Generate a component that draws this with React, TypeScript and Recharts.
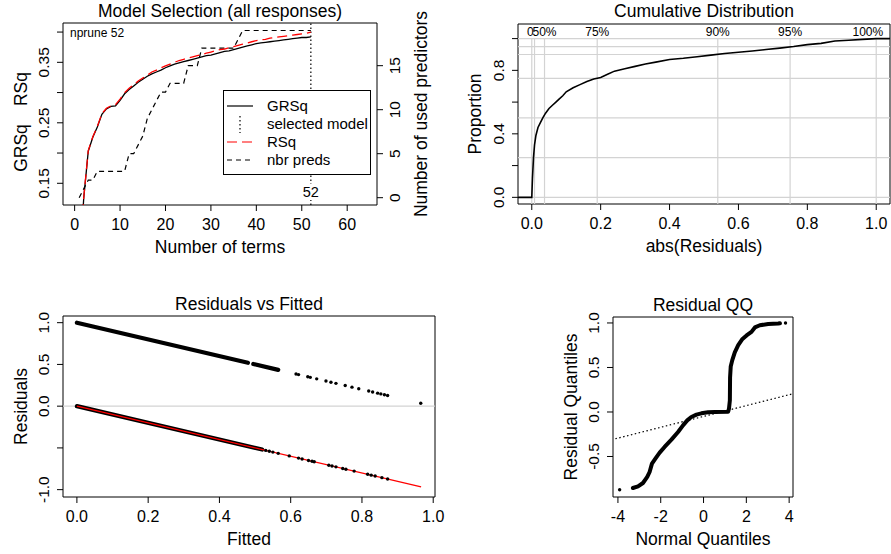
import React from "react";
import {
  ComposedChart,
  Line,
  Scatter,
  XAxis,
  YAxis,
  ReferenceLine,
  ReferenceArea,
  Legend,
} from "recharts";

// ---- model selection (top left) ----
const terms = [
  1, 2, 3, 4, 5, 6, 7, 8, 9, 10, 11, 12, 13, 14, 15, 16, 17, 18, 19, 20, 21, 22, 23, 24, 25, 26,
  27, 28, 29, 30, 31, 32, 33, 34, 35, 36, 37, 38, 39, 40, 41, 42, 43, 44, 45, 46, 47, 48, 49, 50, 51, 52,
];
const grsq = [
  0.0, 0.125, 0.203, 0.226, 0.243, 0.264, 0.273, 0.277, 0.278, 0.287, 0.298, 0.305, 0.311, 0.317,
  0.322, 0.327, 0.331, 0.334, 0.337, 0.341, 0.344, 0.347, 0.349, 0.351, 0.353, 0.355, 0.357, 0.359,
  0.361, 0.362, 0.364, 0.366, 0.368, 0.369, 0.371, 0.373, 0.375, 0.377, 0.379, 0.381, 0.382, 0.383,
  0.384, 0.385, 0.386, 0.387, 0.388, 0.389, 0.39, 0.391, 0.391, 0.392,
];
const rsq = [
  0.0, 0.126, 0.204, 0.227, 0.244, 0.265, 0.274, 0.278, 0.28, 0.289, 0.3, 0.307, 0.313, 0.319,
  0.324, 0.329, 0.334, 0.337, 0.341, 0.344, 0.347, 0.35, 0.353, 0.355, 0.357, 0.359, 0.361, 0.363,
  0.365, 0.367, 0.369, 0.371, 0.372, 0.374, 0.376, 0.378, 0.38, 0.382, 0.384, 0.386, 0.387, 0.388,
  0.39, 0.391, 0.392, 0.393, 0.394, 0.395, 0.396, 0.397, 0.398, 0.4,
];
const nbrPreds = [
  0, 1, 2, 2, 3, 3, 3, 3, 3, 3, 3, 5, 5, 6, 7, 9, 10, 11, 12, 12, 13, 13, 13, 13, 15, 15, 15, 17,
  17, 17, 17, 17, 17, 17, 17, 18, 19, 19, 19, 19, 19, 19, 19, 19, 19, 19, 19, 19, 19, 19, 19, 19,
];
const selectedTerms = 52;
const termTicks = [0, 10, 20, 30, 40, 50, 60];
const termTickLabels = ["0", "10", "20", "30", "40", "50", "60"];
const rsqTicks = [0.15, 0.2, 0.25, 0.3, 0.35, 0.4];
const rsqTickLabels = ["0.15", "", "0.25", "", "0.35", ""];
const predTicks = [0, 5, 10, 15];
const predTickLabels = ["0", "5", "10", "15"];
const legendNames = ["GRSq", "selected model", "RSq", "nbr preds"];

// ---- cumulative distribution (top right) ----
const absResid = [
  -0.04, 0.0, 0.002, 0.005, 0.008, 0.012, 0.018, 0.025, 0.032, 0.04, 0.05, 0.06, 0.07, 0.08, 0.09,
  0.1, 0.12, 0.14, 0.16, 0.18, 0.2, 0.22, 0.24, 0.27, 0.3, 0.33, 0.36, 0.4, 0.44, 0.48, 0.52, 0.56,
  0.6, 0.64, 0.68, 0.72, 0.76, 0.8, 0.84, 0.88, 0.92, 0.96, 1.0, 1.04,
];
const cumProp = [
  0, 0, 0.12, 0.25, 0.33, 0.39, 0.44, 0.47, 0.5, 0.53, 0.56, 0.58, 0.6, 0.62, 0.64, 0.665, 0.69,
  0.71, 0.73, 0.745, 0.755, 0.775, 0.795, 0.81, 0.825, 0.84, 0.852, 0.868, 0.876, 0.886, 0.896,
  0.906, 0.914, 0.922, 0.931, 0.94, 0.95, 0.962, 0.97, 0.985, 0.99, 0.995, 1.0, 1.0,
];
const quantileAt = [0, 0.008, 0.037, 0.19, 0.54, 0.75, 1.0];
const quantileNames = ["0", "", "50%", "75%", "90%", "95%", "100%"];
const propGrid = [0, 0.25, 0.5, 0.75, 0.9, 0.95, 1.0];
const unitTicks = [0, 0.2, 0.4, 0.6, 0.8, 1.0];
const unitTickLabels = ["0.0", "0.2", "0.4", "0.6", "0.8", "1.0"];
const propTickLabels = ["0.0", "", "0.4", "", "0.8", ""];

// ---- residuals vs fitted (bottom left) ----
const bandUpperFitted = [0, 0.48, 0.488, 0.495, 0.565];
const bandUpperResid = [1.0, 0.52, null, 0.505, 0.435];
const bandLowerFitted = [0, 0.52];
const bandLowerResid = [0, -0.52];
const upperFitted = [
  0.615, 0.622, 0.648, 0.655, 0.673, 0.699, 0.713, 0.727, 0.753, 0.772, 0.791, 0.819, 0.83, 0.844,
  0.853, 0.863, 0.872, 0.965,
];
const upperResid = [
  0.385, 0.378, 0.352, 0.345, 0.327, 0.301, 0.287, 0.273, 0.247, 0.228, 0.209, 0.181, 0.17, 0.156,
  0.147, 0.137, 0.128, 0.035,
];
const lowerFitted = [
  0.53, 0.54, 0.55, 0.565, 0.596, 0.622, 0.632, 0.65, 0.66, 0.666, 0.707, 0.716, 0.727, 0.746,
  0.755, 0.778, 0.816, 0.826, 0.837, 0.856, 0.872,
];
const lowerResid = [
  -0.53, -0.54, -0.55, -0.565, -0.596, -0.622, -0.632, -0.65, -0.66, -0.666, -0.707, -0.716,
  -0.727, -0.746, -0.755, -0.778, -0.816, -0.826, -0.837, -0.856, -0.872,
];
const fitLineFitted = [0, 0.966];
const fitLineResid = [0, -0.966];
const residTicks = [-1, -0.5, 0, 0.5, 1];
const residTickLabels = ["-1.0", "", "0.0", "0.5", "1.0"];

// ---- residual QQ (bottom right) ----
const normQ = [
  -3.3, -3.06, -2.83, -2.63, -2.52, -2.41, -2.25, -2.05, -1.82, -1.5, -1.19, -0.96, -0.76, -0.57,
  -0.33, -0.1, 0.21, 0.52, 1.15, 1.19, 1.23, 1.24, 1.27, 1.34, 1.46, 1.62, 1.82, 2.01, 2.24, 2.4,
  2.63, 3.02, 3.49, 3.57,
];
const residQ = [
  -0.854, -0.835, -0.798, -0.73, -0.674, -0.58, -0.524, -0.457, -0.393, -0.311, -0.225, -0.15,
  -0.094, -0.056, -0.03, -0.015, -0.004, 0.0, 0.004, 0.04, 0.13, 0.39, 0.51, 0.58, 0.67, 0.75,
  0.82, 0.86, 0.9, 0.95, 0.974, 0.989, 0.993, 0.996,
];
const qqOutX = [-3.92, 3.83];
const qqOutY = [-0.873, 1.0];
const qqLineX = [-4.3, 4.3];
const qqLineY = [-0.312, 0.212];
const normTicks = [-4, -2, 0, 2, 4];
const normTickLabels = ["-4", "-2", "0", "2", "4"];
const qqYTicks = [-0.5, 0, 0.5, 1];
const qqYTickLabels = ["-0.5", "0.0", "0.5", "1.0"];

// ---- layout ----
const W = 891;
const H = 554;
const XH = 30;
const YW = 30;
const FONT = '"Liberation Sans", Arial, Helvetica, sans-serif';
const TICK_X = 16;
const TICK_Y = 15.5;
const LAB = 17.5;
const GRAY = "#d3d3d3";

const P1 = { l: 63, r: 377, t: 23, b: 205 };
const P2 = { l: 518, r: 890, t: 24, b: 204 };
const P3 = { l: 63, r: 435, t: 316, b: 497 };
const P4 = { l: 613, r: 793, t: 317, b: 497 };

const zip = (xs: number[], ys: (number | null)[]) => xs.map((x, i) => ({ x, y: ys[i] }));

function findLabel(ticks: number[], labels: string[], v: number) {
  const i = ticks.findIndex((t) => Math.abs(t - v) < 1e-9);
  return i < 0 ? "" : labels[i];
}

function xTick(ticks: number[], labels: string[]) {
  return (props: any) => (
    <text x={props.x} y={props.y + 17} textAnchor="middle" fontSize={TICK_X} fontFamily={FONT} fill="#000">
      {findLabel(ticks, labels, props.payload.value)}
    </text>
  );
}

function yTick(ticks: number[], labels: string[], dx: number) {
  return (props: any) => {
    const x = props.x + dx;
    return (
      <text
        x={x}
        y={props.y}
        transform={`rotate(-90 ${x} ${props.y})`}
        textAnchor="middle"
        fontSize={TICK_Y}
        fontFamily={FONT}
        fill="#000"
      >
        {findLabel(ticks, labels, props.payload.value)}
      </text>
    );
  };
}

function VText({ x, y, size, children }: any) {
  return (
    <text x={x} y={y} transform={`rotate(-90 ${x} ${y})`} textAnchor="middle" fontSize={size} fontFamily={FONT} fill="#000">
      {children}
    </text>
  );
}

function HText({ x, y, size, anchor, children }: any) {
  return (
    <text x={x} y={y} textAnchor={anchor || "middle"} fontSize={size} fontFamily={FONT} fill="#000">
      {children}
    </text>
  );
}

const dot = (props: any) => <circle cx={props.cx} cy={props.cy} r={1.7} fill="#000" />;

const legendStyle: Record<string, { stroke: string; dash?: string; vertical?: boolean }> = {
  GRSq: { stroke: "#000" },
  "selected model": { stroke: "#000", dash: "1.5 2.5", vertical: true },
  RSq: { stroke: "#ff0000", dash: "10 5" },
  "nbr preds": { stroke: "#000", dash: "5 4" },
};

const renderLegend = () => (
  <svg width={149} height={86} style={{ display: "block" }}>
    <rect x={0.5} y={0.5} width={147} height={84} fill="#fff" stroke="#000" />
    {legendNames.map((name, i) => {
      const yb = 21 + i * 18;
      const st = legendStyle[name];
      return (
        <g key={name}>
          {st.vertical ? (
            <line x1={17} x2={17} y1={yb - 13} y2={yb + 4} stroke={st.stroke} strokeDasharray={st.dash} strokeWidth={1.2} />
          ) : (
            <line x1={4} x2={30} y1={yb - 5} y2={yb - 5} stroke={st.stroke} strokeDasharray={st.dash} strokeWidth={1.2} />
          )}
          <text x={44} y={yb} fontSize={15} fontFamily={FONT} fill="#000">
            {name}
          </text>
        </g>
      );
    })}
  </svg>
);

const layer: React.CSSProperties = { position: "absolute", left: 0, top: 0 };

function ModelSelection() {
  const rows = terms.map((t, i) => ({ x: t, grsq: grsq[i], rsq: rsq[i], preds: nbrPreds[i] }));
  const xDom = [-2.56, 66.56];
  const lDom = [0.1141, 0.415];
  const rDom = [-0.83, 19.85];
  return (
    <ComposedChart
      width={W}
      height={H}
      data={rows}
      margin={{ top: P1.t, bottom: H - P1.b - XH, left: P1.l - YW, right: W - P1.r - YW }}
    >
      <XAxis
        dataKey="x"
        type="number"
        domain={xDom}
        allowDataOverflow
        ticks={termTicks}
        interval={0}
        height={XH}
        axisLine={false}
        tickSize={6}
        tickLine={{ stroke: "#000" }}
        tick={xTick(termTicks, termTickLabels)}
        label={() => (
          <g>
            <HText x={(P1.l + P1.r) / 2} y={P1.b + 48} size={LAB}>Number of terms</HText>
            <HText x={(P1.l + P1.r) / 2} y={P1.t - 6} size={LAB}>Model Selection (all responses)</HText>
          </g>
        )}
      />
      <YAxis
        yAxisId="l"
        type="number"
        domain={lDom}
        allowDataOverflow
        ticks={rsqTicks}
        interval={0}
        width={YW}
        axisLine={false}
        tickSize={6}
        tickLine={{ stroke: "#000" }}
        tick={yTick(rsqTicks, rsqTickLabels, -6)}
        label={() => (
          <g>
            <VText x={P1.l - 36} y={148} size={LAB}>GRSq</VText>
            <VText x={P1.l - 36} y={89} size={LAB}>RSq</VText>
          </g>
        )}
      />
      <YAxis
        yAxisId="r"
        orientation="right"
        type="number"
        domain={rDom}
        allowDataOverflow
        ticks={predTicks}
        interval={0}
        width={YW}
        axisLine={false}
        tickSize={6}
        tickLine={{ stroke: "#000" }}
        tick={yTick(predTicks, predTickLabels, 15)}
        label={() => (
          <VText x={P1.r + 50} y={(P1.t + P1.b) / 2} size={LAB}>Number of used predictors</VText>
        )}
      />
      <ReferenceLine
        yAxisId="l"
        x={selectedTerms}
        stroke="#000"
        strokeDasharray="1.5 2.5"
        strokeWidth={1.2}
        label={(p: any) => {
          const x = p?.viewBox?.x ?? 0;
          return (
            <g>
              <rect x={x - 9} y={P1.b - 21} width={18} height={16} fill="#fff" />
              <HText x={x} y={P1.b - 8} size={14.5}>{String(selectedTerms)}</HText>
            </g>
          );
        }}
      />
      <Line yAxisId="r" dataKey="preds" stroke="#000" strokeDasharray="5 4" strokeWidth={1.2} dot={false} isAnimationActive={false} />
      <Line yAxisId="l" dataKey="grsq" stroke="#000" strokeWidth={1.3} dot={false} isAnimationActive={false} />
      <Line yAxisId="l" dataKey="rsq" stroke="#ff0000" strokeDasharray="10 5" strokeWidth={1.3} dot={false} isAnimationActive={false} />
      <ReferenceArea
        yAxisId="l"
        x1={xDom[0]}
        x2={xDom[1]}
        y1={lDom[0]}
        y2={lDom[1]}
        fill="none"
        stroke="#000"
        ifOverflow="visible"
        label={() => <HText x={P1.l + 7} y={P1.t + 14} size={12} anchor="start">nprune {selectedTerms}</HText>}
      />
      <Legend
        layout="vertical"
        align="center"
        verticalAlign="middle"
        content={renderLegend}
        wrapperStyle={{ left: 223, top: 90, width: 149, height: 86, margin: 0, padding: 0 }}
      />
    </ComposedChart>
  );
}

function CumulativeDistribution() {
  const xDom = [-0.04, 1.04];
  const yDom = [-0.042, 1.092];
  const curve = zip(absResid, cumProp);
  const qLabels = quantileAt.map((q, i) => ({ x: q, y: 1.0, name: quantileNames[i], i }));
  const last = quantileAt.length - 1;
  return (
    <ComposedChart
      width={W}
      height={H}
      margin={{ top: P2.t, bottom: H - P2.b - XH, left: P2.l - YW, right: W - P2.r }}
    >
      <XAxis
        dataKey="x"
        type="number"
        domain={xDom}
        allowDataOverflow
        ticks={unitTicks}
        interval={0}
        height={XH}
        axisLine={false}
        tickSize={6}
        tickLine={{ stroke: "#000" }}
        tick={xTick(unitTicks, unitTickLabels)}
        label={() => (
          <g>
            <HText x={(P2.l + P2.r) / 2} y={P2.b + 48} size={LAB}>abs(Residuals)</HText>
            <HText x={(P2.l + P2.r) / 2} y={P2.t - 7} size={LAB}>Cumulative Distribution</HText>
          </g>
        )}
      />
      <YAxis
        type="number"
        domain={yDom}
        allowDataOverflow
        ticks={unitTicks}
        interval={0}
        width={YW}
        axisLine={false}
        tickSize={6}
        tickLine={{ stroke: "#000" }}
        tick={yTick(unitTicks, propTickLabels, -6)}
        label={() => <VText x={P2.l - 37} y={(P2.t + P2.b) / 2} size={LAB}>Proportion</VText>}
      />
      {propGrid.map((p) => (
        <ReferenceLine key={"h" + p} y={p} stroke={GRAY} strokeWidth={1.2} />
      ))}
      {quantileAt.map((q) => (
        <ReferenceLine
          key={"v" + q}
          segment={[
            { x: q, y: yDom[0] },
            { x: q, y: 1.0 },
          ]}
          stroke={GRAY}
          strokeWidth={1.2}
        />
      ))}
      <Line data={curve} dataKey="y" stroke="#000" strokeWidth={1.6} dot={false} isAnimationActive={false} />
      <Scatter
        data={qLabels}
        dataKey="y"
        isAnimationActive={false}
        shape={(p: any) => {
          const i = p.payload.i;
          const anchor = i === 0 || i === last ? "end" : "middle";
          const dx = i === 0 ? 2 : i === last ? 7 : 0;
          return <HText x={p.cx + dx} y={p.cy - 3} size={12} anchor={anchor}>{p.payload.name}</HText>;
        }}
      />
      <ReferenceArea x1={xDom[0]} x2={xDom[1]} y1={yDom[0]} y2={yDom[1]} fill="none" stroke="#000" ifOverflow="visible" />
    </ComposedChart>
  );
}

function ResidualsVsFitted() {
  const xDom = [-0.039, 1.005];
  const yDom = [-1.088, 1.08];
  return (
    <ComposedChart
      width={W}
      height={H}
      margin={{ top: P3.t, bottom: H - P3.b - XH, left: P3.l - YW, right: W - P3.r }}
    >
      <XAxis
        dataKey="x"
        type="number"
        domain={xDom}
        allowDataOverflow
        ticks={unitTicks}
        interval={0}
        height={XH}
        axisLine={false}
        tickSize={6}
        tickLine={{ stroke: "#000" }}
        tick={xTick(unitTicks, unitTickLabels)}
        label={() => (
          <g>
            <HText x={(P3.l + P3.r) / 2} y={P3.b + 48} size={LAB}>Fitted</HText>
            <HText x={(P3.l + P3.r) / 2} y={P3.t - 6} size={LAB}>Residuals vs Fitted</HText>
          </g>
        )}
      />
      <YAxis
        type="number"
        domain={yDom}
        allowDataOverflow
        ticks={residTicks}
        interval={0}
        width={YW}
        axisLine={false}
        tickSize={6}
        tickLine={{ stroke: "#000" }}
        tick={yTick(residTicks, residTickLabels, -6)}
        label={() => <VText x={P3.l - 36} y={(P3.t + P3.b) / 2} size={LAB}>Residuals</VText>}
      />
      <ReferenceLine y={0} stroke={GRAY} strokeWidth={1.2} />
      <Line data={zip(bandUpperFitted, bandUpperResid)} dataKey="y" stroke="#000" strokeWidth={4.2} strokeLinecap="round" dot={false} isAnimationActive={false} />
      <Line data={zip(bandLowerFitted, bandLowerResid)} dataKey="y" stroke="#000" strokeWidth={4.2} strokeLinecap="round" dot={false} isAnimationActive={false} />
      <Scatter data={zip(upperFitted, upperResid)} dataKey="y" shape={dot} isAnimationActive={false} />
      <Scatter data={zip(lowerFitted, lowerResid)} dataKey="y" shape={dot} isAnimationActive={false} />
      <Line data={zip(fitLineFitted, fitLineResid)} dataKey="y" stroke="#ff0000" strokeWidth={1.3} dot={false} isAnimationActive={false} />
      <ReferenceArea x1={xDom[0]} x2={xDom[1]} y1={yDom[0]} y2={yDom[1]} fill="none" stroke="#000" ifOverflow="visible" />
    </ComposedChart>
  );
}

function ResidualQQ() {
  const xDom = [-4.23, 4.18];
  const yDom = [-0.955, 1.067];
  return (
    <ComposedChart
      width={W}
      height={H}
      margin={{ top: P4.t, bottom: H - P4.b - XH, left: P4.l - YW, right: W - P4.r }}
    >
      <XAxis
        dataKey="x"
        type="number"
        domain={xDom}
        allowDataOverflow
        ticks={normTicks}
        interval={0}
        height={XH}
        axisLine={false}
        tickSize={6}
        tickLine={{ stroke: "#000" }}
        tick={xTick(normTicks, normTickLabels)}
        label={() => (
          <g>
            <HText x={(P4.l + P4.r) / 2} y={P4.b + 48} size={LAB}>Normal Quantiles</HText>
            <HText x={(P4.l + P4.r) / 2} y={P4.t - 6} size={LAB}>Residual QQ</HText>
          </g>
        )}
      />
      <YAxis
        type="number"
        domain={yDom}
        allowDataOverflow
        ticks={qqYTicks}
        interval={0}
        width={YW}
        axisLine={false}
        tickSize={6}
        tickLine={{ stroke: "#000" }}
        tick={yTick(qqYTicks, qqYTickLabels, -6)}
        label={() => <VText x={P4.l - 36} y={(P4.t + P4.b) / 2} size={LAB}>Residual Quantiles</VText>}
      />
      <Line data={zip(qqLineX, qqLineY)} dataKey="y" stroke="#000" strokeDasharray="1.5 2.5" strokeWidth={1.2} dot={false} isAnimationActive={false} />
      <Line data={zip(normQ, residQ)} dataKey="y" stroke="#000" strokeWidth={4} strokeLinecap="round" strokeLinejoin="round" dot={false} isAnimationActive={false} />
      <Scatter data={zip(qqOutX, qqOutY)} dataKey="y" shape={dot} isAnimationActive={false} />
      <ReferenceArea x1={xDom[0]} x2={xDom[1]} y1={yDom[0]} y2={yDom[1]} fill="none" stroke="#000" ifOverflow="visible" />
    </ComposedChart>
  );
}

export default function App() {
  return (
    <div style={{ position: "absolute", left: 0, top: 0, width: W, height: H, background: "#fff" }}>
      <div style={layer}>
        <ModelSelection />
      </div>
      <div style={layer}>
        <CumulativeDistribution />
      </div>
      <div style={layer}>
        <ResidualsVsFitted />
      </div>
      <div style={layer}>
        <ResidualQQ />
      </div>
    </div>
  );
}
